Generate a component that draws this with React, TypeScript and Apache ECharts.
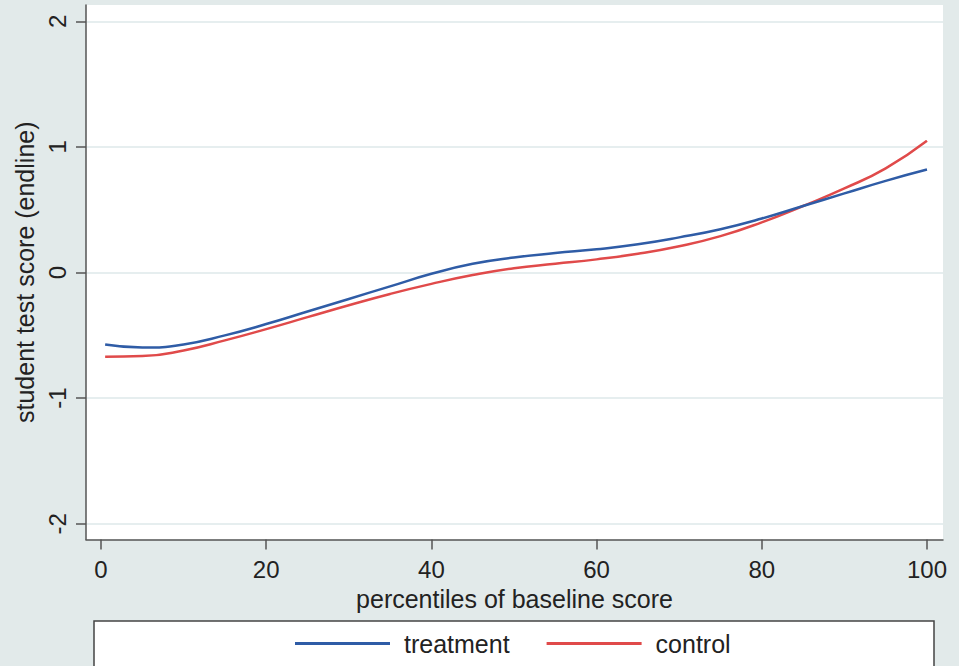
import React, { useEffect, useRef } from "react";
import * as echarts from "echarts";

const percentiles = [0.5, 5, 10, 15, 20, 25, 30, 35, 40, 45, 50, 55, 60, 65, 70, 75, 80, 85, 90, 95, 100];
const treatment = [-0.573, -0.597, -0.572, -0.5, -0.41, -0.31, -0.21, -0.11, -0.01, 0.07, 0.12, 0.155, 0.185, 0.225, 0.28, 0.345, 0.43, 0.53, 0.63, 0.73, 0.82];
const control = [-0.67, -0.665, -0.62, -0.54, -0.45, -0.355, -0.26, -0.17, -0.09, -0.02, 0.035, 0.07, 0.105, 0.15, 0.21, 0.29, 0.4, 0.53, 0.67, 0.83, 1.05];
const xTicks = [0, 20, 40, 60, 80, 100];
const yTicks = [-2, -1, 0, 1, 2];

const FONT = "'Liberation Sans', Arial, sans-serif";

export default function App() {
  const ref = useRef<HTMLDivElement>(null);
  useEffect(() => {
    if (!ref.current) return;
    const chart = echarts.init(ref.current, undefined, { renderer: "svg" });
    const toPairs = (ys: number[]) => percentiles.map((x, i) => [x, ys[i]]);
    chart.setOption({
      animation: false,
      backgroundColor: "#e2eaea",
      textStyle: { fontFamily: FONT },
      grid: {
        left: 86,
        top: 5,
        width: 857,
        height: 534.5,
        show: true,
        backgroundColor: "#ffffff",
        borderWidth: 0,
      },
      xAxis: {
        type: "value",
        min: -1.816,
        max: 101.94,
        name: "percentiles of baseline score",
        nameLocation: "middle",
        nameGap: 43,
        nameTextStyle: { fontSize: 25, color: "#222", fontFamily: FONT },
        axisLine: { show: true, onZero: false, lineStyle: { color: "#555", width: 1.5 } },
        axisTick: { show: true, length: 10, customValues: xTicks, lineStyle: { color: "#555", width: 1.5 } },
        axisLabel: { customValues: xTicks, fontSize: 24, color: "#222", margin: 18, fontFamily: FONT },
        splitLine: { show: false },
      },
      yAxis: {
        type: "value",
        min: -2.125,
        max: 2.13,
        name: "student test score (endline)",
        nameLocation: "middle",
        nameRotate: 90,
        nameGap: 38,
        nameTextStyle: { fontSize: 25, color: "#222", fontFamily: FONT },
        axisLine: { show: true, onZero: false, lineStyle: { color: "#555", width: 1.5 } },
        axisTick: { show: true, length: 10, customValues: yTicks, lineStyle: { color: "#555", width: 1.5 } },
        axisLabel: { customValues: yTicks, rotate: 90, fontSize: 24, color: "#222", margin: 17, fontFamily: FONT },
        splitLine: { show: true, lineStyle: { color: "#e6eeef", width: 2 } },
      },
      legend: {
        show: true,
        left: 295,
        top: 631,
        z: 10,
        icon: "rect",
        itemWidth: 95,
        itemHeight: 3,
        itemGap: 37,
        padding: 0,
        textStyle: { fontSize: 25, color: "#222", fontFamily: FONT, padding: [0, 0, 0, 9] },
        data: ["treatment", "control"],
      },
      graphic: [
        {
          type: "rect",
          z: 0,
          shape: { x: 94, y: 621, width: 840, height: 80 },
          style: { fill: "#ffffff", stroke: "#444", lineWidth: 1.5 },
        },
      ],
      series: [
        {
          name: "treatment",
          type: "line",
          smooth: true,
          showSymbol: false,
          symbol: "none",
          data: toPairs(treatment),
          lineStyle: { color: "#2f5ca6", width: 2.5 },
          itemStyle: { color: "#2f5ca6" },
          z: 3,
        },
        {
          name: "control",
          type: "line",
          smooth: true,
          showSymbol: false,
          symbol: "none",
          data: toPairs(control),
          lineStyle: { color: "#e04a4a", width: 2.5 },
          itemStyle: { color: "#e04a4a" },
          z: 2,
        },
      ],
    });
    return () => chart.dispose();
  }, []);
  return <div ref={ref} style={{ width: 959, height: 666, position: "absolute", left: 0, top: 0 }} />;
}
